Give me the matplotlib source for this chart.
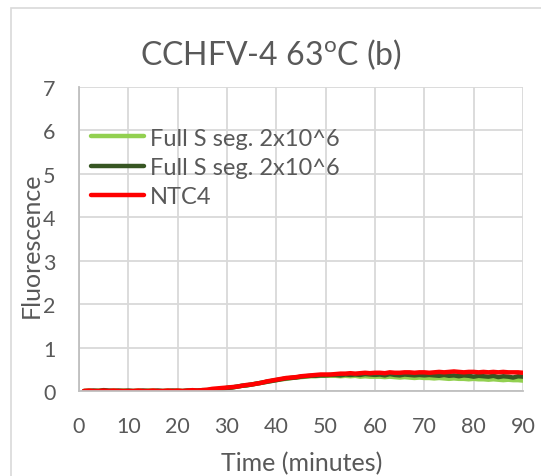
import matplotlib
matplotlib.use("Agg")
import matplotlib.pyplot as plt
from matplotlib.patches import Rectangle

plt.rcParams['font.family'] = ['Lato', 'DejaVu Sans']
plt.rcParams['mathtext.fontset'] = 'custom'
plt.rcParams['mathtext.rm'] = 'Lato'

title = "CCHFV-4 63$^{\\mathrm{o}}$C (b)"
xlabel = "Time (minutes)"
ylabel = "Fluorescence"
labels = ["Full S seg. 2x10^6", "Full S seg. 2x10^6", "NTC4"]
colors = ["#92d050", "#375623", "#ff0000"]

time = list(range(1, 91))

light_green = [
    0.00, 0.01, 0.00, 0.01, 0.01, 0.00, 0.01, 0.00, 0.01, 0.00,
    0.00, 0.01, 0.00, 0.01, 0.01, 0.00, 0.00, 0.01, 0.00, 0.01,
    0.00, 0.01, 0.01, 0.01, 0.02, 0.02, 0.03, 0.04, 0.05, 0.07,
    0.08, 0.10, 0.12, 0.13, 0.15, 0.17, 0.19, 0.21, 0.23, 0.25,
    0.27, 0.28, 0.30, 0.31, 0.32, 0.33, 0.34, 0.34, 0.35, 0.35,
    0.35, 0.35, 0.34, 0.35, 0.34, 0.35, 0.33, 0.34, 0.33, 0.33,
    0.33, 0.32, 0.33, 0.32, 0.31, 0.32, 0.31, 0.30, 0.31, 0.30,
    0.30, 0.29, 0.30, 0.29, 0.28, 0.29, 0.28, 0.28, 0.27, 0.28,
    0.27, 0.27, 0.26, 0.27, 0.26, 0.25, 0.26, 0.25, 0.25, 0.24,
]

dark_green = [
    0.00, 0.00, 0.01, 0.00, 0.02, 0.01, 0.00, 0.01, 0.00, 0.01,
    0.00, 0.00, 0.01, 0.00, 0.00, 0.01, 0.00, 0.00, 0.01, 0.00,
    0.00, 0.01, 0.01, 0.01, 0.02, 0.02, 0.03, 0.04, 0.05, 0.07,
    0.08, 0.10, 0.12, 0.13, 0.15, 0.17, 0.19, 0.21, 0.23, 0.25,
    0.27, 0.29, 0.30, 0.31, 0.33, 0.34, 0.35, 0.35, 0.36, 0.36,
    0.37, 0.37, 0.36, 0.38, 0.37, 0.38, 0.37, 0.39, 0.38, 0.37,
    0.38, 0.36, 0.39, 0.37, 0.36, 0.38, 0.37, 0.36, 0.37, 0.36,
    0.37, 0.36, 0.35, 0.37, 0.35, 0.36, 0.34, 0.36, 0.35, 0.33,
    0.35, 0.34, 0.33, 0.35, 0.32, 0.34, 0.33, 0.31, 0.34, 0.33,
]

ntc4 = [
    0.00, 0.01, 0.00, 0.00, 0.01, 0.00, 0.01, 0.00, 0.00, 0.00,
    0.00, 0.01, 0.00, 0.00, 0.01, 0.00, 0.00, 0.01, 0.00, 0.01,
    0.00, 0.01, 0.02, 0.01, 0.02, 0.03, 0.05, 0.06, 0.07, 0.08,
    0.09, 0.10, 0.12, 0.14, 0.15, 0.17, 0.19, 0.22, 0.24, 0.26,
    0.28, 0.30, 0.31, 0.32, 0.34, 0.35, 0.36, 0.37, 0.38, 0.38,
    0.38, 0.39, 0.40, 0.40, 0.41, 0.40, 0.41, 0.42, 0.41, 0.42,
    0.42, 0.41, 0.43, 0.42, 0.42, 0.43, 0.43, 0.42, 0.43, 0.43,
    0.42, 0.43, 0.44, 0.43, 0.44, 0.45, 0.44, 0.43, 0.44, 0.44,
    0.43, 0.44, 0.43, 0.44, 0.43, 0.44, 0.43, 0.43, 0.43, 0.42,
]

xticks = [0, 10, 20, 30, 40, 50, 60, 70, 80, 90]
yticks = [0, 1, 2, 3, 4, 5, 6, 7]

W, H = 541, 477
fig = plt.figure(figsize=(W / 100, H / 100), dpi=100)
fig.patch.set_facecolor("white")

# outer chart border (cropped on right/bottom)
fig.add_artist(Rectangle((11 / W, -0.1), 1.2, 1 - 9 / H + 0.1,
                         transform=fig.transFigure, fill=False,
                         edgecolor="#d9d9d9", linewidth=1.2))

ax = fig.add_axes([79 / W, 1 - 392 / H, (523 - 79) / W, (392 - 88) / H])

series = [light_green, dark_green, ntc4]
for vals, lab, col in zip(series, labels, colors):
    ax.plot(time, vals, color=col, linewidth=3.2, label=lab,
            solid_capstyle="round")

ax.set_xlim(0, 90)
ax.set_ylim(0, 7)
ax.set_xticks(xticks)
ax.set_yticks(yticks)
ax.grid(True, color="#d9d9d9", linewidth=1.3)
ax.set_axisbelow(True)
for s in ["top", "right"]:
    ax.spines[s].set_visible(False)
for s in ["left", "bottom"]:
    ax.spines[s].set_color("#bfbfbf")
    ax.spines[s].set_linewidth(1.3)
ax.tick_params(length=0, labelsize=15.5, colors="#595959")
ax.tick_params(axis="x", pad=18)
ax.tick_params(axis="y", pad=17)

fig.text(271 / W, 1 - 55 / H, title, fontsize=23, color="#595959",
         ha="center", va="center")
fig.text(302 / W, 1 - 464 / H, xlabel, fontsize=18, color="#595959",
         ha="center", va="center")
fig.text(31 / W, 1 - 245 / H, ylabel, fontsize=18, color="#595959",
         ha="center", va="center", rotation=90)

leg = ax.legend(loc="upper left", bbox_to_anchor=(0.0, 0.905), frameon=False,
                fontsize=17, handlelength=2.25, handletextpad=0.25,
                labelspacing=0.35, borderaxespad=0.1)
for t in leg.get_texts():
    t.set_color("#595959")

fig.savefig("out.png", dpi=100)
